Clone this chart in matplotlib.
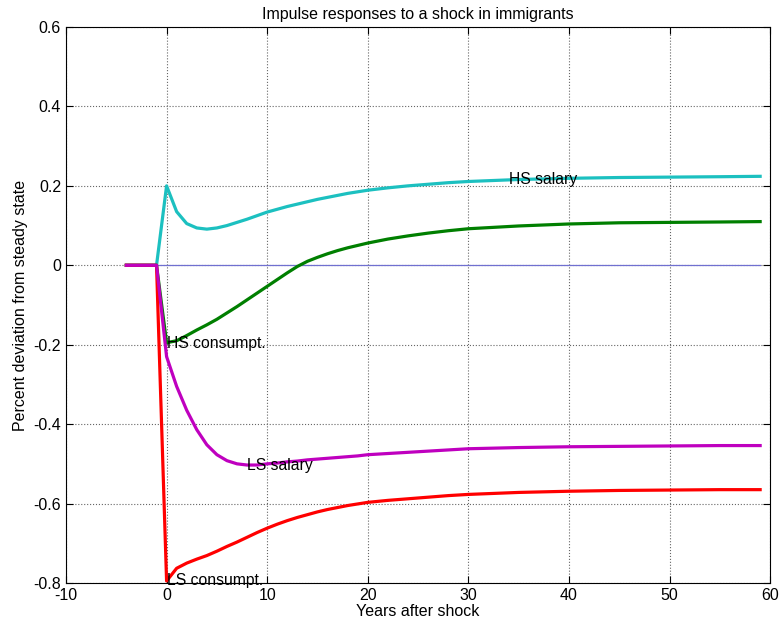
import matplotlib
matplotlib.use("Agg")
import matplotlib.pyplot as plt

plt.rcParams['font.family'] = ['Liberation Sans', 'DejaVu Sans']
plt.rcParams['axes.unicode_minus'] = False

# years after shock (pre-shock periods are zero)
years = [-4, -3, -2, -1,
         0, 1, 2, 3, 4, 5, 6, 7, 8, 9, 10, 11, 12, 13, 14, 15, 16, 17, 18, 19, 20,
         22, 24, 26, 28, 30, 35, 40, 45, 50, 55, 59]

hs_salary = [0, 0, 0, 0,
             0.200, 0.135, 0.105, 0.094, 0.091, 0.094, 0.100, 0.108, 0.116, 0.125, 0.134,
             0.141, 0.148, 0.154, 0.160, 0.166, 0.171, 0.176, 0.181, 0.185, 0.189,
             0.195, 0.200, 0.204, 0.208, 0.211, 0.216, 0.219, 0.221, 0.222, 0.223, 0.224]

hs_consumpt = [0, 0, 0, 0,
               -0.195, -0.190, -0.177, -0.163, -0.150, -0.136, -0.120, -0.104, -0.087, -0.070, -0.053,
               -0.036, -0.019, -0.003, 0.010, 0.020, 0.029, 0.037, 0.044, 0.050, 0.056,
               0.066, 0.074, 0.081, 0.087, 0.092, 0.099, 0.104, 0.107, 0.108, 0.109, 0.110]

ls_salary = [0, 0, 0, 0,
             -0.230, -0.305, -0.365, -0.414, -0.452, -0.477, -0.492, -0.500, -0.503, -0.503, -0.500,
             -0.498, -0.495, -0.493, -0.490, -0.488, -0.486, -0.484, -0.482, -0.480, -0.477,
             -0.474, -0.471, -0.468, -0.465, -0.462, -0.459, -0.457, -0.456, -0.455, -0.454, -0.454]

ls_consumpt = [0, 0, 0, 0,
               -0.795, -0.763, -0.750, -0.740, -0.731, -0.720, -0.708, -0.697, -0.685, -0.673, -0.662,
               -0.652, -0.643, -0.635, -0.628, -0.621, -0.615, -0.610, -0.605, -0.601, -0.597,
               -0.592, -0.588, -0.584, -0.580, -0.577, -0.572, -0.569, -0.567, -0.566, -0.565, -0.565]

zero_line = [0] * len(years)

# curve labels: text, x, y
labels = ['HS salary', 'HS consumpt.', 'LS salary', 'LS consumpt.']
label_x = [34, 0, 8, 0]
label_y = [0.215, -0.198, -0.503, -0.795]

fig = plt.figure(figsize=(7.79, 6.28), dpi=100)
ax = fig.add_axes([0.0847, 0.0717, 0.904, 0.8853])

ax.plot(years, zero_line, color='#7070d0', linewidth=0.9)
ax.plot(years, hs_salary, color='#1cc0c0', linewidth=2.3)
ax.plot(years, hs_consumpt, color='#007f00', linewidth=2.3)
ax.plot(years, ls_consumpt, color='#ff0000', linewidth=2.3)
ax.plot(years, ls_salary, color='#bf00bf', linewidth=2.3)

for txt, lx, ly in zip(labels, label_x, label_y):
    ax.text(lx, ly, txt, fontsize=11.3, ha='left', va='center', color='black')

ax.set_xlim(-10, 60)
ax.set_ylim(-0.8, 0.6)
ax.set_xticks(range(-10, 61, 10))
ax.set_yticks([-0.8, -0.6, -0.4, -0.2, 0, 0.2, 0.4, 0.6])
ax.set_yticklabels(['-0.8', '-0.6', '-0.4', '-0.2', '0', '0.2', '0.4', '0.6'])
ax.grid(True, linestyle=':', color='#666666', linewidth=0.8)
ax.tick_params(direction='in', top=True, right=True, labelsize=11.5, length=5)

ax.set_xlabel('Years after shock', fontsize=11.5, labelpad=1)
ax.set_ylabel('Percent deviation from steady state', fontsize=11.5)
ax.set_title('Impulse responses to a shock in immigrants', fontsize=11.5, pad=6)

fig.savefig('out.png', dpi=100)
